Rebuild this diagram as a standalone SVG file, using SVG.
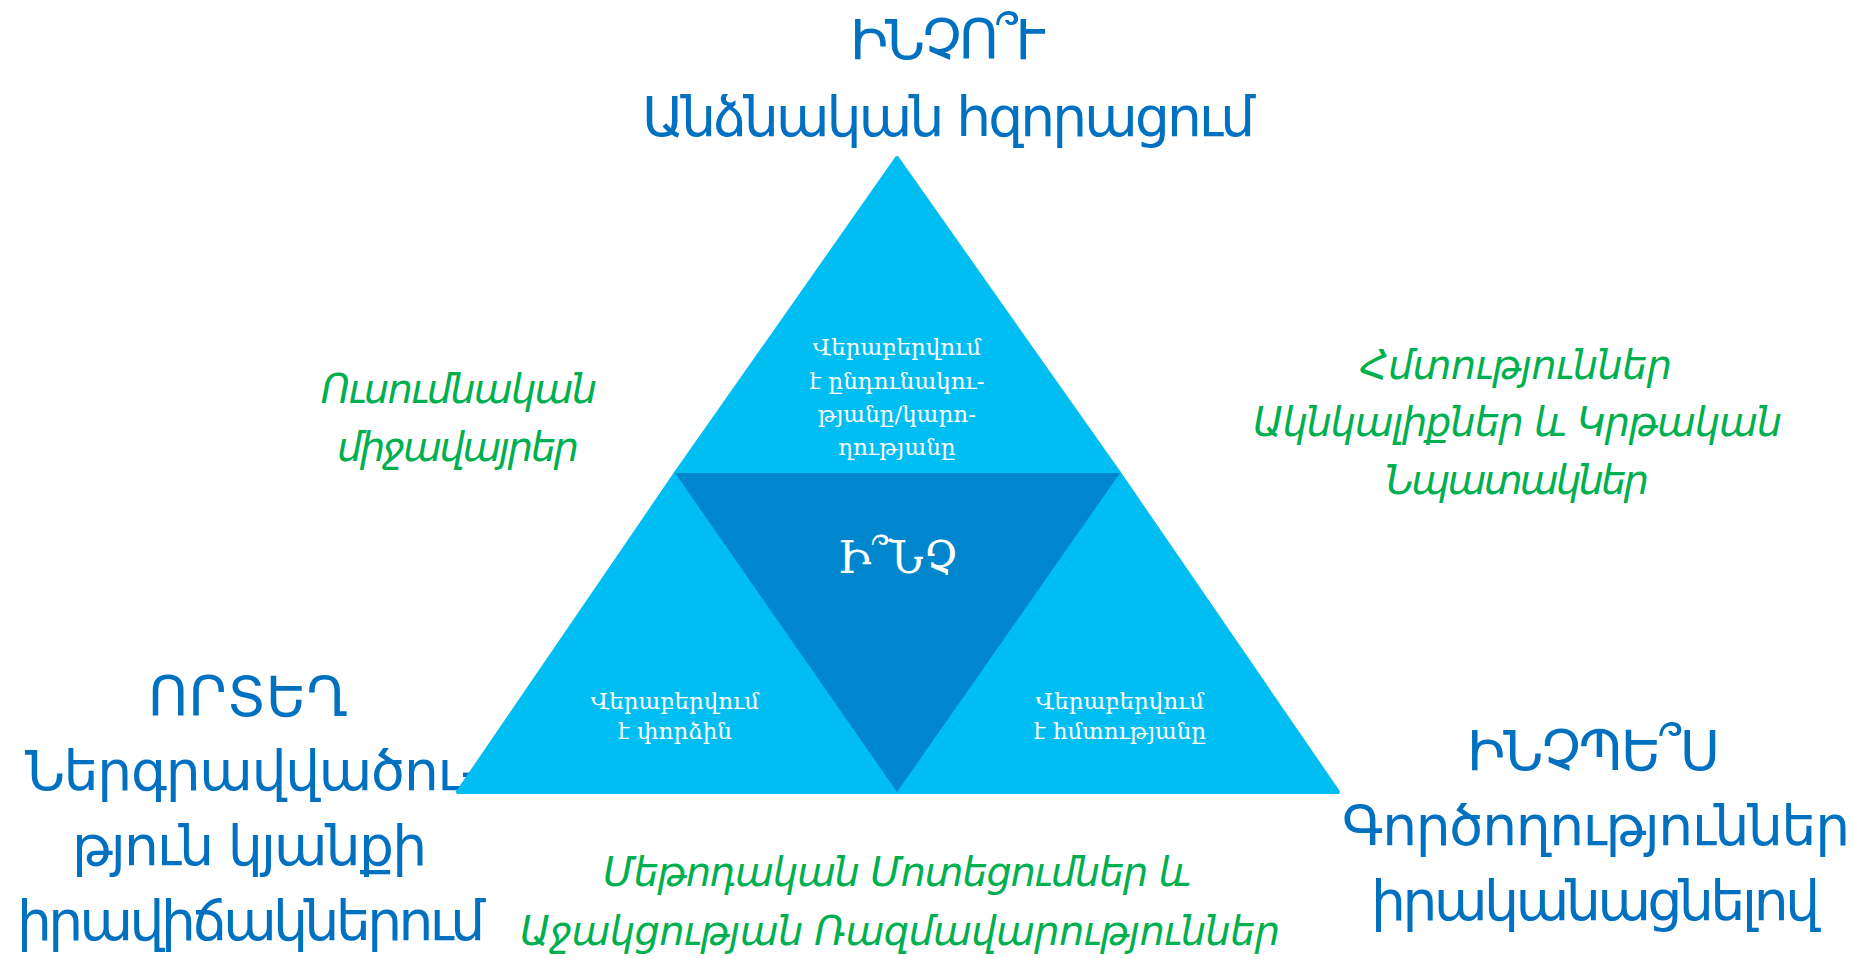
<svg xmlns="http://www.w3.org/2000/svg" width="1853" height="959" viewBox="0 0 1853 959">
  <style>
    .blue { font-family: "DejaVu Sans", "Noto Sans", sans-serif; font-size: 55px; fill: #0070C0; }
    .green { font-family: "DejaVu Sans", "Noto Sans", sans-serif; font-size: 40px; font-style: italic; fill: #00B050; }
    .white { font-family: "DejaVu Serif", "Liberation Serif", serif; font-size: 23px; fill: #FFFFFF; text-anchor: middle; }
    .big { font-size: 44px; }
    .light { fill: #00BEF2; stroke: #00BEF2; stroke-width: 4; stroke-linejoin: round; }
    .dark { fill: #0086CD; }
  </style>
  <rect x="0" y="0" width="1853" height="959" fill="#FFFFFF"/>

  <g id="label-why">
    <text class="blue" x="850" y="59" textLength="195">ԻՆՉՈ՞Ւ</text>
    <text class="blue" x="642" y="136" textLength="613">Անձնական հզորացում</text>
  </g>
  <g id="label-where">
    <text class="blue" x="148" y="716" textLength="200">ՈՐՏԵՂ</text>
    <text class="blue" x="25" y="790" textLength="455">Ներգրավվածու-</text>
    <text class="blue" x="72" y="865" textLength="355">թյուն կյանքի</text>
    <text class="blue" x="17" y="940" textLength="468">իրավիճակներում</text>
  </g>
  <g id="label-how">
    <text class="blue" x="1467" y="770" textLength="253">ԻՆՉՊԵ՞Ս</text>
    <text class="blue" x="1342" y="845" textLength="508">Գործողություններ</text>
    <text class="blue" x="1371" y="920" textLength="449">իրականացնելով</text>
  </g>
  <g id="label-environments">
    <text class="green" x="321" y="403" textLength="276">Ուսումնական</text>
    <text class="green" x="337" y="461" textLength="242">միջավայրեր</text>
  </g>
  <g id="label-skills">
    <text class="green" x="1360" y="379" textLength="312">Հմտություններ</text>
    <text class="green" x="1253" y="436" textLength="529">Ակնկալիքներ և Կրթական</text>
    <text class="green" x="1385" y="494" textLength="264">Նպատակներ</text>
  </g>
  <g id="label-methods">
    <text class="green" x="603" y="886" textLength="588">Մեթոդական Մոտեցումներ և</text>
    <text class="green" x="520" y="945" textLength="760">Աջակցության Ռազմավարություններ</text>
  </g>

  <g id="node-top">
    <polygon class="light" points="897,158 676,473 1119,473"/>
    <text class="white" x="897" y="355">Վերաբերվում</text>
    <text class="white" x="897" y="389">է ընդունակու-</text>
    <text class="white" x="897" y="422">թյանը/կարո-</text>
    <text class="white" x="897" y="455">ղությանը</text>
  </g>
  <g id="node-left">
    <polygon class="light" points="676,473 458,792 897,792"/>
    <text class="white" x="675" y="709">Վերաբերվում</text>
    <text class="white" x="675" y="739">է փորձին</text>
  </g>
  <g id="node-right">
    <polygon class="light" points="1119,473 897,792 1338,792"/>
    <text class="white" x="1120" y="709">Վերաբերվում</text>
    <text class="white" x="1120" y="739">է հմտությանը</text>
  </g>
  <g id="node-center">
    <polygon class="dark" points="675,473 1120,473 897,792"/>
    <text class="white big" x="898" y="573">Ի՞ՆՉ</text>
  </g>
  <g id="connectors"/>
</svg>
